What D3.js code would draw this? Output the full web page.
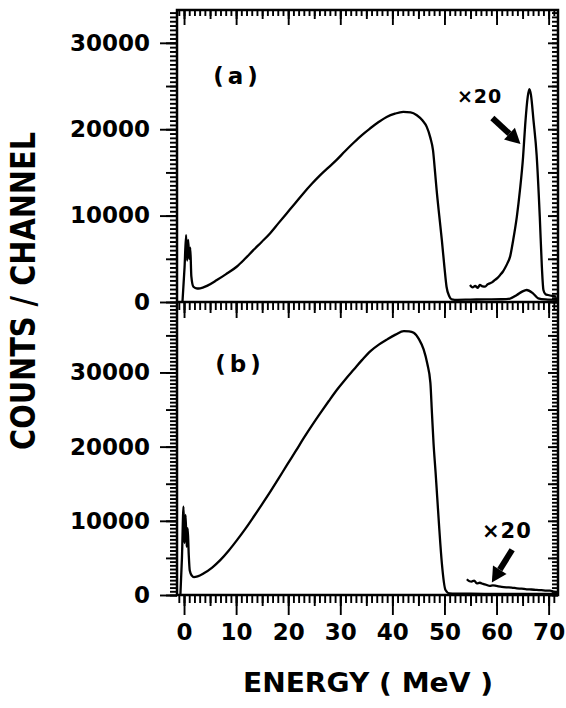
<!DOCTYPE html>
<html>
<head>
<meta charset="utf-8">
<script src="https://cdn.jsdelivr.net/npm/d3@7"></script>
<style>
    body { margin: 0; background: #fff; }
    svg { display: block; }
</style>
</head>
<body>
<svg id="drawing_region"></svg>
<script>
// [energy (MeV), counts / channel]
const spectrum_a = [
    [-0.3, 0], [0.1, 4000], [0.4, 7750], [0.6, 4800], [0.8, 7200], [1.0, 5000], [1.2, 6300],
    [1.4, 3000], [1.8, 1770], [2.5, 1560], [3.1, 1580], [4.5, 1900], [6.3, 2540], [8.0, 3200],
    [10.1, 4080], [11.7, 5000], [13.3, 6000], [14.9, 6950], [16.5, 7940], [18.1, 9100],
    [19.7, 10250], [21.3, 11400], [22.9, 12570], [24.5, 13650], [26.1, 14650], [27.7, 15550],
    [29.3, 16450], [30.9, 17450], [32.5, 18400], [34.1, 19300], [35.7, 20080], [37.3, 20800],
    [38.9, 21420], [40.5, 21800], [42.1, 22000], [43.5, 21950], [44.7, 21620], [45.8, 21000],
    [46.6, 20270], [47.3, 19000], [47.8, 17570], [48.2, 15000], [48.5, 12950], [49.0, 10000],
    [49.5, 7170], [50.0, 4000], [50.4, 1770], [50.9, 700], [51.4, 310], [52.5, 250], [55.0, 280],
    [58.0, 300], [61.0, 320], [62.6, 400], [63.9, 810], [64.9, 1200], [65.8, 1390], [67.0, 1000],
    [68.0, 430], [69.4, 300], [71.8, 250]
];

// the "x20" trace of panel (a)
const spectrum_a_x20 = [
    [54.9, 1970], [55.4, 1700], [55.9, 1850], [56.4, 1650], [56.8, 1970], [57.3, 1800],
    [57.8, 1780], [58.3, 2050], [58.7, 2160], [59.2, 2300], [59.7, 2550], [60.2, 2800],
    [60.7, 3130], [61.2, 3500], [61.6, 3900], [62.1, 4500], [62.6, 5250], [63.2, 7180],
    [63.9, 9880], [64.5, 12970], [65.1, 16830], [65.5, 20500], [66.0, 23800], [66.3, 24640],
    [66.6, 24000], [67.1, 21000], [67.7, 17000], [68.3, 9880], [68.7, 4090], [69.0, 1390],
    [69.4, 900], [69.9, 810], [70.7, 700], [71.5, 620]
];

const spectrum_b = [
    [-0.7, 0], [-0.4, 5000], [-0.1, 11900], [0.1, 7000], [0.3, 10800], [0.5, 6500], [0.7, 9000],
    [0.9, 5500], [1.1, 3300], [1.5, 2600], [1.9, 2400], [2.6, 2500], [3.8, 2930], [5.4, 3700],
    [7.0, 4730], [8.6, 6000], [10.2, 7430], [11.8, 8950], [13.4, 10580], [15.0, 12250],
    [16.6, 13960], [18.2, 15750], [19.8, 17570], [21.4, 19350], [23.0, 21170], [24.6, 22900],
    [26.2, 24550], [27.8, 26150], [29.4, 27700], [31.0, 29100], [32.6, 30400], [34.2, 31700],
    [35.8, 32880], [37.4, 33750], [39.0, 34460], [40.6, 35100], [42.2, 35580], [43.2, 35550],
    [44.1, 35360], [45.1, 34500], [46.0, 33100], [46.7, 31200], [47.3, 28600], [47.6, 24500],
    [47.9, 20500], [48.3, 16500], [48.6, 13280], [49.0, 9000], [49.5, 4280], [50.2, 680],
    [51.0, 200], [55.0, 180], [60.0, 150], [65.0, 150], [71.8, 150]
];

const spectrum_b_x20 = [
    [54.3, 2120], [54.8, 1850], [55.2, 1800], [55.7, 1950], [56.2, 1580], [56.8, 1650],
    [57.4, 1490], [58.0, 1380], [58.7, 1220], [59.3, 1300], [60.0, 1220], [61.0, 1100],
    [61.9, 1040], [62.9, 1000], [63.9, 900], [64.8, 850], [65.8, 770], [66.7, 740],
    [67.7, 680], [68.6, 650], [69.6, 580], [70.3, 600], [70.9, 450], [71.8, 400]
];

const x_ticks = [0, 10, 20, 30, 40, 50, 60, 70];
const y_ticks_a = [0, 10000, 20000, 30000];
const y_ticks_b = [0, 10000, 20000, 30000];

const FONT = 'DejaVu Sans';

let svg = d3.select('#drawing_region')
    .attr('width', 566)
    .attr('height', 708);

// frame edges in pixels
const frame = {left: 177, right: 558, top: 10, middle: 302, bottom: 595};

const xscale = d3.scaleLinear()
    .domain([-1.35, 71.8])
    .range([frame.left, frame.right]);

// draws one set of ticks (minor / medium / major) with the d3 axis
function ticks(axis, values, size, transform, labels) {
    let g = svg.append('g')
        .attr('transform', transform)
        .call(axis.tickValues(values).tickSize(size).tickSizeOuter(0)
            .tickPadding(labels ? 9 : 0)
            .tickFormat(labels ? d3.format('d') : ''));
    g.select('.domain').remove();
    g.selectAll('line').attr('stroke', '#000').attr('stroke-width', 1.9);
    g.attr('font-family', FONT).attr('font-size', 23).attr('font-weight', 'bold');
    return g;
}

class Panel {
    constructor(config) {
        this.config = config;
        this.init();
    }

    init() {
        let self = this;
        let c = self.config;
        self.yscale = d3.scaleLinear()
            .domain([0, c.ymax])
            .range([c.y0, c.y1]);

        let minor = d3.range(0, c.ymax, 500);
        let medium = d3.range(0, c.ymax, 5000);

        // left axis, ticks pointing out
        ticks(d3.axisLeft(self.yscale), minor, 7, `translate(${frame.left},0)`, false);
        ticks(d3.axisLeft(self.yscale), medium, 11, `translate(${frame.left},0)`, false);
        ticks(d3.axisLeft(self.yscale), c.yticks, 17, `translate(${frame.left},0)`, true)
            .selectAll('text').attr('x', -27);

        // right axis, ticks pointing in
        ticks(d3.axisLeft(self.yscale), minor, 6, `translate(${frame.right},0)`, false);
        ticks(d3.axisLeft(self.yscale), medium, 10, `translate(${frame.right},0)`, false);

        // x ticks hanging down from the top edge of the panel
        ticks(d3.axisBottom(xscale), d3.range(-1, 72), c.tick_top[0], `translate(0,${c.y1})`, false);
        ticks(d3.axisBottom(xscale), d3.range(0, 72, 5), c.tick_top[1], `translate(0,${c.y1})`, false);
        ticks(d3.axisBottom(xscale), x_ticks, c.tick_top[2], `translate(0,${c.y1})`, false);
    }

    render() {
        let self = this;
        let c = self.config;
        let line = d3.line()
            .curve(d3.curveMonotoneX)
            .x(d => xscale(d[0]))
            .y(d => self.yscale(d[1]));

        [c.main, c.scaled].forEach(series => {
            svg.append('path')
                .datum(series)
                .attr('d', line)
                .attr('fill', 'none')
                .attr('stroke', '#000')
                .attr('stroke-width', 2.3)
                .attr('stroke-linejoin', 'round');
        });

        svg.append('text')
            .attr('x', xscale(c.tag_at[0]))
            .attr('y', self.yscale(c.tag_at[1]))
            .attr('font-family', FONT)
            .attr('font-size', 23)
            .attr('font-weight', 'bold')
            .attr('letter-spacing', 4)
            .text(c.tag);

        svg.append('text')
            .attr('x', xscale(c.x20_at[0]))
            .attr('y', self.yscale(c.x20_at[1]))
            .attr('font-family', FONT)
            .attr('font-size', c.x20_size)
            .attr('font-weight', 'bold')
            .attr('letter-spacing', 1)
            .text('×20');

        // arrow pointing at the x20 trace
        let x0 = xscale(c.arrow[0][0]), y0 = self.yscale(c.arrow[0][1]);
        let x1 = xscale(c.arrow[1][0]), y1 = self.yscale(c.arrow[1][1]);
        let len = Math.hypot(x1 - x0, y1 - y0);
        let ux = (x1 - x0) / len, uy = (y1 - y0) / len;
        let hl = 15, hw = 8;
        let bx = x1 - ux * hl, by = y1 - uy * hl;
        svg.append('line')
            .attr('x1', x0).attr('y1', y0)
            .attr('x2', bx).attr('y2', by)
            .attr('stroke', '#000')
            .attr('stroke-width', 6);
        svg.append('path')
            .attr('d', `M${x1},${y1}L${bx - uy * hw},${by + ux * hw}L${bx + uy * hw},${by - ux * hw}Z`)
            .attr('fill', '#000');
    }
}

let panel_a = new Panel({
    ymax: 33800, y0: frame.middle, y1: frame.top, yticks: y_ticks_a,
    tick_top: [6, 9, 15],
    main: spectrum_a, scaled: spectrum_a_x20,
    tag: '(a)', tag_at: [5.6, 25250],
    x20_at: [52.4, 23050], x20_size: 19,
    arrow: [[59.2, 21300], [64.6, 18300]]
});
panel_a.render();

let panel_b = new Panel({
    ymax: 39500, y0: frame.bottom, y1: frame.middle, yticks: y_ticks_b,
    tick_top: [8, 11, 16],
    main: spectrum_b, scaled: spectrum_b_x20,
    tag: '(b)', tag_at: [6.0, 30130],
    x20_at: [57.2, 7700], x20_size: 21,
    arrow: [[63.0, 6100], [59.1, 1700]]
});
panel_b.render();

// bottom energy axis, ticks hanging outside
ticks(d3.axisBottom(xscale), d3.range(-1, 72), 8, `translate(0,${frame.bottom})`, false);
ticks(d3.axisBottom(xscale), d3.range(0, 72, 5), 11, `translate(0,${frame.bottom})`, false);
ticks(d3.axisBottom(xscale), x_ticks, 20, `translate(0,${frame.bottom})`, true);

// frame and divider
svg.append('rect')
    .attr('x', frame.left).attr('y', frame.top)
    .attr('width', frame.right - frame.left)
    .attr('height', frame.bottom - frame.top)
    .attr('fill', 'none')
    .attr('stroke', '#000')
    .attr('stroke-width', 2.5);
svg.append('line')
    .attr('x1', frame.left).attr('x2', frame.right)
    .attr('y1', frame.middle).attr('y2', frame.middle)
    .attr('stroke', '#000')
    .attr('stroke-width', 2.5);

svg.append('text')
    .attr('x', 368)
    .attr('y', 692)
    .attr('text-anchor', 'middle')
    .attr('font-family', FONT)
    .attr('font-size', 26)
    .attr('font-weight', 'bold')
    .attr('textLength', 250)
    .attr('lengthAdjust', 'spacingAndGlyphs')
    .text('ENERGY ( MeV )');

svg.append('text')
    .attr('transform', 'translate(35,291) rotate(-90)')
    .attr('text-anchor', 'middle')
    .attr('font-family', FONT)
    .attr('font-size', 33)
    .attr('font-weight', 'bold')
    .attr('textLength', 318)
    .attr('lengthAdjust', 'spacingAndGlyphs')
    .text('COUNTS / CHANNEL');
</script>
</body>
</html>
